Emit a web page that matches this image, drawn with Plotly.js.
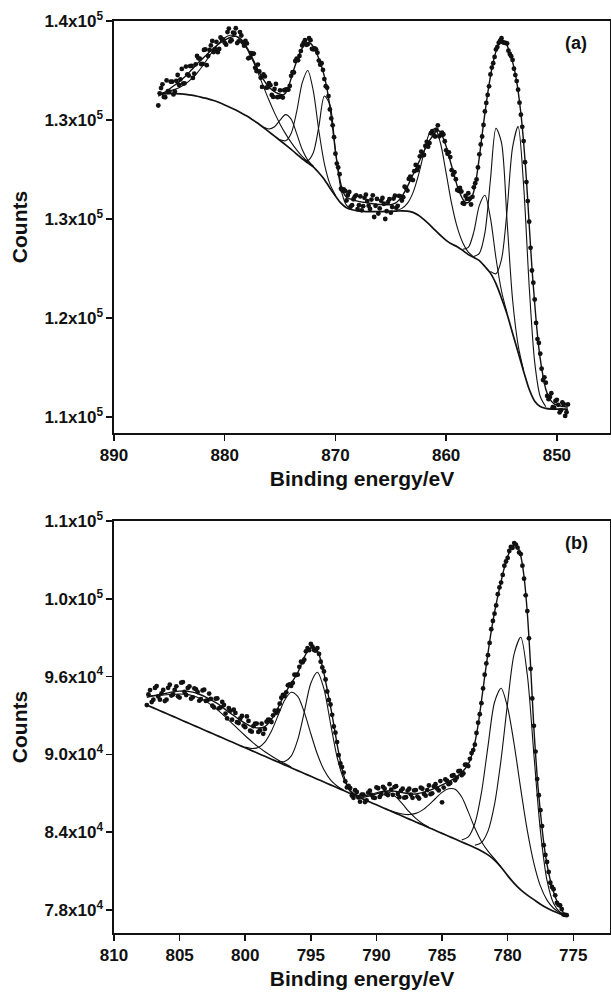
<!DOCTYPE html>
<html>
<head>
<meta charset="utf-8">
<script src="https://cdn.plot.ly/plotly-3.0.1.min.js"></script>
<style>
html,body{margin:0;padding:0;background:#fff;}
#chart{width:611px;height:998px;}
</style>
</head>
<body>
<div id="chart"></div>
<script>
// ---------- Panel (a) : Ni 2p ----------
const dataA_E = [886,885.75,885.5,885.25,885,884.75,884.5,884.25,884,883.75,883.5,883.25,883,882.75,882.5,882.25,882,881.75,881.5,881.25,881,880.75,880.5,880.25,880,879.75,879.5,879.25,879,878.75,878.5,878.25,878,877.75,877.5,877.25,877,876.75,876.5,876.25,876,875.75,875.5,875.25,875,874.75,874.5,874.25,874,873.75,873.5,873.25,873,872.75,872.5,872.25,872,871.75,871.5,871.25,871,870.75,870.5,870.25,870,869.75,869.5,869.25,869,868.75,868.5,868.25,868,867.75,867.5,867.25,867,866.75,866.5,866.25,866,865.75,865.5,865.25,865,864.75,864.5,864.25,864,863.75,863.5,863.25,863,862.75,862.5,862.25,862,861.75,861.5,861.25,861,860.75,860.5,860.25,860,859.75,859.5,859.25,859,858.75,858.5,858.25,858,857.75,857.5,857.25,857,856.75,856.5,856.25,856,855.75,855.5,855.25,855,854.75,854.5,854.25,854,853.75,853.5,853.25,853,852.75,852.5,852.25,852,851.75,851.5,851.25,851,850.75,850.5,850.25,850,849.75,849.5,849.25,849];
const dataA_counts = [133600,134920,134250,135500,134650,135400,134650,135910,135580,135260,136550,135870,136600,136020,137350,137150,136750,137850,137350,138150,137650,138420,137880,138620,138350,139160,138450,139120,139450,138460,138900,138130,138300,137220,137500,136450,136700,135700,135950,134950,135300,134400,134850,134230,134750,
134200,134800,134800,135850,136100,137150,137350,138150,138550,138230,138550,137850,137850,137000,136800,135600,134950,133300,132100,129950,128900,127300,127250,126400,
127050,126050,126700,125750,126710,125970,126840,126000,126470,125150,126520,125800,126590,125000,126280,125480,126550,125850,126750,
126400,127450,127150,128200,127950,129100,128950,130100,129850,130850,130750,131650,131250,132100,131350,131400,130200,130050,128700,128550,127200,127350,126200,126750,126950,
126100,127400,128000,129900,131250,133150,134400,135950,136800,137850,138350,138700,138350,138300,137500,137050,135900,134800,132900,130900,127800,124800,121100,118900,115900,114800,112800,112600,111350,111800,110700,111300,110350,111100,110080,110950];
// second (interleaved) set of measured points
const dataA2_E = [885.875,885.625,885.375,885.125,884.875,884.625,884.375,884.125,883.875,883.625,883.375,883.125,882.875,882.625,882.375,882.125,881.875,881.625,881.375,881.125,880.875,880.625,880.375,880.125,879.875,879.625,879.375,879.125,878.875,878.625,878.375,878.125,877.875,877.625,877.375,877.125,876.875,876.625,876.375,876.125,875.875,875.625,875.375,875.125,
874.875,874.625,874.375,874.125,873.875,873.625,873.375,873.125,872.875,872.625,872.375,872.125,871.875,871.625,871.375,871.125,870.875,870.625,870.375,870.125,869.875,869.625,869.375,869.125,
868.875,868.625,868.375,868.125,867.875,867.625,867.375,867.125,866.875,866.625,866.375,866.125,865.875,865.625,865.375,865.125,864.875,864.625,864.375,864.125,
863.875,863.625,863.375,863.125,862.875,862.625,862.375,862.125,861.875,861.625,861.375,861.125,860.875,860.625,860.375,860.125,859.875,859.625,859.375,859.125,858.875,858.625,858.375,858.125,
857.875,857.625,857.375,857.125,856.875,856.625,856.375,856.125,855.875,855.625,855.375,855.125,854.875,854.625,854.375,854.125,853.875,853.625,853.375,853.125,852.875,852.625,852.375,852.125,851.875,851.625,851.375,851.125,850.875,850.625,850.375,850.125,849.875,849.625,849.375,849.125];
const dataA2_counts = [134520,135205,134225,134695,135405,134435,135470,135155,136370,135275,135960,136585,135690,136715,137170,136730,137810,136650,137810,138490,137875,137640,138750,138565,138205,139425,138545,139075,138325,139160,138385,138485,137170,137570,137535,136205,136180,135005,135800,134965,135140,134245,135230,134250,
134265,134755,134815,135085,136120,136970,137025,137725,138340,138195,138700,137895,137930,137600,136690,136295,135060,134310,132620,131200,129200,128390,127155,127120,
126810,125940,126495,126795,126050,125660,126605,126360,125765,126790,125995,125410,126375,126155,125590,126500,125905,126760,126000,126715,
126650,127340,128035,127990,128620,128710,129745,129835,130530,130480,131505,131355,131760,131265,131550,130890,129945,129690,128355,128010,127135,127085,126150,126520,
126535,126680,127710,128910,130650,132120,133790,135050,136470,137280,138035,138515,138395,138340,137755,137330,136390,135450,133810,131980,129300,126360,122815,120175,117130,115615,113660,113005,111600,111510,110740,111220,110920,110510,110970,110360];
const envA_counts = [134300,134420,134550,134700,134850,135000,135150,135310,135480,135660,135850,136070,136300,136520,136750,136950,137150,137350,137550,137750,137950,138120,138280,138420,138550,138660,138750,138820,138850,138760,138600,138330,138000,137620,137200,136750,136300,135900,135550,135250,135000,134800,134650,134530,134450,
134400,134550,135000,135650,136350,136950,137500,137950,138250,138380,138300,138050,137650,137150,136550,135800,134800,133500,131900,130100,128700,127600,126950,126650,
126550,126450,126400,126350,126310,126270,126240,126200,126170,126150,126120,126100,126090,126080,126080,126080,126150,126250,126450,
126700,127050,127450,127900,128350,128800,129250,129700,130150,130550,130950,131250,131550,131700,131550,131100,130500,129750,129000,128250,127500,126950,126500,126250,126250,
126500,127100,128200,129700,131400,133000,134500,135800,136900,137700,138250,138500,138450,138150,137600,136900,136000,134700,133000,130800,128000,124600,121300,118600,116200,114400,113100,112100,111550,111200,111000,110900,110850,110800,110780,110750];

const gridA_E = [886,885.5,885,884.5,884,883.5,883,882.5,882,881.5,881,880.5,880,879.5,879,878.5,878,877.5,877,876.5,876,875.5,875,874.5,874,873.5,873,872.5,872,871.5,871,870.5,870,869.5,869,868.5,868,867.5,867,866.5,866,865.5,865,864.5,864,863.5,863,862.5,862,861.5,861,860.5,860,859.5,859,858.5,858,857.5,857,856.5,856,855.5,855,854.5,854,853.5,853,852.5,852,851.5,851,850.5,850,849.5,849];
const bgA_counts = [134450,134480,134500,134500,134480,134440,134380,134300,134200,134100,133980,133820,133640,133450,133250,133030,132800,132530,132250,131930,131600,131280,130950,130620,130280,129920,129550,129250,128950,128500,128000,127350,126750,126200,125850,125700,125620,125580,125560,125560,125560,125570,125580,125600,125620,125600,125500,125280,124950,124570,124150,123750,123380,123100,122900,122620,122300,122080,121850,121400,120900,120100,119000,117800,116350,114900,113450,112100,111200,110800,110650,110600,110600,110600,110600];

// fitted components (height above background)
const compA_879_E = [886,885.5,885,884.5,884,883.5,883,882.5,882,881.5,881,880.5,880,879.5,879,878.5,878,877.5,877,876.5,876,875.5,875,874.5,874,873.5,873,872.5,872];
const compA_879_h = [55,104,187,320,527,826,1233,1759,2391,3102,3837,4527,5095,5470,5600,5470,5095,4527,3837,3102,2391,1759,1233,826,527,320,187,104,55];
const compA_874_E = [876.5,876,875.5,875,874.5,874,873.5,873,872.5,872];
const compA_874_h = [46,220,709,1546,2285,2285,1546,709,220,46];
const compA_8725_E = [875,874.5,874,873.5,873,872.5,872,871.5,871,870.5,870];
const compA_8725_h = [53,308,1204,3206,5760,7000,5760,3206,1204,308,53];
const compA_8707_E = [873,872.5,872,871.5,871,870.5,870,869.5,869,868.5];
const compA_8707_h = [17,182,1070,3494,6317,6317,3494,1070,182,17];
const compA_861_E = [864.5,864,863.5,863,862.5,862,861.5,861,860.5,860,859.5,859,858.5,858,857.5];
const compA_861_h = [48,187,585,1480,3040,5100,6950,7700,6950,5100,3040,1480,585,187,48];
const compA_8565_E = [858.5,858,857.5,857,856.5,856,855.5,855,854.5];
const compA_8565_h = [92,545,1944,4185,5400,4185,1944,545,92];
const compA_8553_E = [857.5,857,856.5,856,855.5,855,854.5,854,853.5,853];
const compA_8553_h = [72,550,2550,7070,11780,11780,7070,2550,550,72];
const compA_8535_E = [856,855.5,855,854.5,854,853.5,853,852.5,852,851.5,851];
const compA_8535_h = [130,750,2940,7830,14070,17100,14070,7830,2940,750,130];

const tickA_vals = [140000,132500,125000,117500,110000];
const tickA_text = ['1.4x10<sup>5</sup>','1.3x10<sup>5</sup>','1.3x10<sup>5</sup>','1.2x10<sup>5</sup>','1.1x10<sup>5</sup>'];
const tickA_x = [890,880,870,860,850];

// ---------- Panel (b) : Co 2p ----------
const dataB_E = [807.5,807.25,807,806.75,806.5,806.25,806,805.75,805.5,805.25,805,804.75,804.5,804.25,804,803.75,803.5,803.25,803,802.75,802.5,802.25,802,801.75,801.5,801.25,801,800.75,800.5,800.25,800,799.75,799.5,799.25,799,798.75,798.5,798.25,798,797.75,797.5,797.25,797,796.75,796.5,796.25,796,795.75,795.5,795.25,795,794.75,794.5,794.25,794,793.75,793.5,793.25,793,792.75,792.5,792.25,792,791.75,791.5,791.25,791,790.75,790.5,790.25,790,789.75,789.5,789.25,789,788.75,788.5,788.25,788,787.75,787.5,787.25,787,786.75,786.5,786.25,786,785.75,785.5,785.25,785,784.75,784.5,784.25,784,783.75,783.5,783.25,783,782.75,782.5,782.25,782,781.75,781.5,781.25,781,780.75,780.5,780.25,780,779.75,779.5,779.25,779,778.75,778.5,778.25,778,777.75,777.5,777.25,777,776.75,776.5,776.25,776,775.75,775.5];
const dataB_counts = [93800,94960,94220,95270,94220,94970,94220,95370,94620,95250,
94380,95580,94580,95240,94400,95020,94140,94930,94120,94690,
93750,94300,93550,94050,93150,93570,92680,93200,92420,92960,
92100,92580,91750,92380,91730,92370,91950,92680,92500,93370,
93400,94370,94500,95330,95280,96150,96150,97150,97300,98200,
98520,98050,98200,97150,96400,94850,93850,92150,90950,89300,
88600,87450,87400,86650,87100,86350,86900,86450,87200,86670,
87450,86720,87500,86950,87700,86880,87550,86700,87350,86700,
87350,86650,87250,86600,87350,86820,87600,87000,87700,87220,
86300,88070,87700,88350,88000,88700,88400,89200,89100,90100,
90750,92450,93950,96150,97650,99650,100850,102350,103250,104550,
105150,106000,106300,105950,105450,103550,101050,96600,92200,88100,
85700,83000,81700,80100,79600,78550,78350,77650,77600];
const dataB2_E = [807.375,807.125,806.875,806.625,806.375,806.125,805.875,805.625,805.375,805.125,804.875,804.625,804.375,804.125,803.875,803.625,803.375,803.125,802.875,802.625,802.375,802.125,801.875,801.625,801.375,801.125,800.875,800.625,800.375,800.125,799.875,799.625,799.375,799.125,798.875,798.625,798.375,798.125,
797.875,797.625,797.375,797.125,796.875,796.625,796.375,796.125,795.875,795.625,795.375,795.125,794.875,794.625,794.375,794.125,793.875,793.625,793.375,793.125,792.875,792.625,792.375,792.125,
791.875,791.625,791.375,791.125,790.875,790.625,790.375,790.125,789.875,789.625,789.375,789.125,788.875,788.625,788.375,788.125,787.875,787.625,787.375,787.125,786.875,786.625,786.375,786.125,785.875,785.625,785.375,785.125,784.875,784.625,784.375,784.125,783.875,783.625,783.375,783.125,
782.875,782.625,782.375,782.125,781.875,781.625,781.375,781.125,780.875,780.625,780.375,780.125,779.875,779.625,779.375,779.125,778.875,778.625,778.375,778.125,777.875,777.625,777.375,777.125,776.875,776.625,776.375,776.125,775.875,775.625];
const dataB2_counts = [94625,94035,95130,94465,94710,94110,95135,94535,94965,94475,95530,94815,95120,94300,95085,94810,94260,94995,94160,94285,93620,94315,93620,93810,92775,93370,93445,92485,92770,92220,92925,91825,92180,92380,91855,91590,92525,92670,
93010,93210,93910,94585,94790,95405,95515,96125,96750,97100,97950,98035,98310,98000,97750,96700,95775,94200,93050,91675,89950,89025,87925,87575,
86825,87235,86685,86905,86320,87045,86880,86640,87390,86925,87350,86860,87280,87480,86945,87210,86665,87200,86905,87220,86750,87430,86950,87250,86935,87530,87370,87945,87440,87970,87795,88395,88210,88725,88525,89210,
89660,90332,91651,93098,95084,97019,98599,100293,101490,102877,103841,104876,105686,105932,106185,105573,104551,102266,98952,94315,90218,86849,84469,82248,80934,79782,79135,78399,78068,77616];
const envB_E = [807.5,807,806.5,806,805.5,805,804.5,804,803.5,803,802.5,802,801.5,801,800.5,800,799.5,799,798.5,798,797.5,797,796.5,796,795.75,795.5,795.25,795,794.75,794.5,794.25,794,793.75,793.5,793.25,793,792.75,792.5,792.25,792,791.5,791,790.5,790,789.5,789,788.5,788,787.5,787,786.5,786,785.5,785,784.5,784,783.5,783,782.75,782.5,782.25,782,781.75,781.5,781.25,781,780.75,780.5,780.25,780,779.75,779.5,779.25,779,778.75,778.5,778.25,778,777.75,777.5,777.25,777,776.75,776.5,776.25,776,775.75,775.5];
const envB_counts = [94400,94520,94620,94720,94820,94880,94880,94800,94640,94420,94150,93850,93450,93080,92720,92400,92150,92030,92150,92700,93600,94650,95480,96300,96900,97500,97950,98220,98250,98000,97300,96250,95000,93700,92300,90800,89500,88400,87650,87150,86800,86700,86800,86950,87100,87200,87150,87050,86950,86950,87050,87200,87400,87650,87900,88200,88600,89250,89900,90900,92300,94100,96000,97800,99500,100950,102200,103350,104400,105250,105850,106150,106050,105300,103700,100900,96800,92000,88300,85500,83200,81500,80300,79400,78700,78200,77800,77500];

const gridB_E = [807.5,807,806.5,806,805.5,805,804.5,804,803.5,803,802.5,802,801.5,801,800.5,800,799.5,799,798.5,798,797.5,797,796.5,796,795.5,795,794.5,794,793.5,793,792.5,792,791.5,791,790.5,790,789.5,789,788.5,788,787.5,787,786.5,786,785.5,785,784.5,784,783.5,783,782.5,782,781.5,781,780.5,780,779.5,779,778.5,778,777.5,777,776.5,776,775.5];
const bgB_counts = [93810,93590,93370,93150,92930,92710,92490,92270,92050,91830,91610,91390,91170,90950,90730,90510,90290,90070,89850,89630,89410,89190,88970,88750,88530,88310,88090,87870,87650,87430,87210,86990,86770,86550,86330,86110,85890,85670,85450,85230,85010,84790,84570,84350,84130,83910,83690,83470,83250,83030,82800,82550,82250,81850,81300,80650,80050,79550,79150,78800,78450,78150,77900,77700,77550];

const compB_803_E = [807.5,807,806.5,806,805.5,805,804.5,804,803.5,803,802.5,802,801.5,801,800.5,800,799.5,799,798.5,798,797.5,797,796.5];
const compB_803_h = [700,930,1180,1450,1710,1950,2140,2260,2300,2260,2140,1950,1710,1450,1180,930,700,510,360,250,160,100,60];
const compB_796_E = [800,799.5,799,798.5,798,797.5,797,796.5,796,795.5,795,794.5,794,793.5,793,792.5];
const compB_796_h = [50,170,470,1100,2170,3580,4980,5820,5720,4730,3280,1920,940,390,135,40];
const compB_7945_E = [797.5,797,796.5,796,795.5,795,794.5,794,793.5,793,792.5,792,791.5];
const compB_7945_h = [55,260,900,2370,4740,7180,8240,7180,4740,2370,900,260,55];
const compB_789_E = [792,791.5,791,790.5,790,789.5,789,788.5,788,787.5,787,786.5,786];
const compB_789_h = [35,105,270,550,930,1260,1400,1260,930,550,270,105,35];
const compB_784_E = [789,788.5,788,787.5,787,786.5,786,785.5,785,784.5,784,783.5,783,782.5,782,781.5,781,780.5];
const compB_784_h = [30,75,170,350,660,1130,1760,2470,3160,3660,3840,3460,2540,1520,740,290,95,25];
const compB_7805_E = [783.5,783,782.5,782,781.5,781,780.5,780,779.5,779,778.5,778,777.5,777,776.5,776,775.5];
const compB_7805_h = [150,610,1870,4480,8370,12170,13800,12950,10700,7770,4970,2800,1390,610,235,80,25];
const compB_779_E = [782.5,782,781.5,781,780.5,780,779.5,779,778.5,778,777.5,777,776.5,776,775.5];
const compB_779_h = [190,650,1830,4290,8320,13340,17730,19480,16970,11200,5610,2130,610,130,20];

const tickB_vals = [108000,102000,96000,90000,84000,78000];
const tickB_text = ['1.1x10<sup>5</sup>','1.0x10<sup>5</sup>','9.6x10<sup>4</sup>','9.0x10<sup>4</sup>','8.4x10<sup>4</sup>','7.8x10<sup>4</sup>'];
const tickB_x = [810,805,800,795,790,785,780,775];

const xTitle = 'Binding energy/eV';
const yTitle = 'Counts';
const panelLabels = ['(a)','(b)'];

// ---------- build traces ----------
const INK = '#111111';
function onBackground(E, h, gridE, bg) {
  return E.map((e, i) => bg[gridE.indexOf(e)] + h[i]);
}
function lineTrace(x, y, xa, ya, w) {
  return {x: x, y: y, xaxis: xa, yaxis: ya, type: 'scatter', mode: 'lines',
          line: {color: INK, width: w, shape: 'spline', smoothing: 0.8},
          hoverinfo: 'skip', showlegend: false};
}
function dotTrace(x, y, xa, ya) {
  return {x: x, y: y, xaxis: xa, yaxis: ya, type: 'scatter', mode: 'markers',
          marker: {color: INK, size: 4.8}, hoverinfo: 'skip', showlegend: false};
}

const compsA = [[compA_879_E, compA_879_h],[compA_874_E, compA_874_h],[compA_8725_E, compA_8725_h],
  [compA_8707_E, compA_8707_h],[compA_861_E, compA_861_h],[compA_8565_E, compA_8565_h],
  [compA_8553_E, compA_8553_h],[compA_8535_E, compA_8535_h]];
const compsB = [[compB_803_E, compB_803_h],[compB_796_E, compB_796_h],[compB_7945_E, compB_7945_h],
  [compB_789_E, compB_789_h],[compB_784_E, compB_784_h],[compB_7805_E, compB_7805_h],[compB_779_E, compB_779_h]];

const traces = [];
traces.push(lineTrace(gridA_E, bgA_counts, 'x', 'y', 1.7));
compsA.forEach(c => traces.push(lineTrace(c[0], onBackground(c[0], c[1], gridA_E, bgA_counts), 'x', 'y', 1.1)));
traces.push(lineTrace(dataA_E, envA_counts, 'x', 'y', 1.4));
traces.push(dotTrace(dataA_E, dataA_counts, 'x', 'y'));
traces.push(dotTrace(dataA2_E, dataA2_counts, 'x', 'y'));

traces.push(lineTrace(gridB_E, bgB_counts, 'x2', 'y2', 1.7));
compsB.forEach(c => traces.push(lineTrace(c[0], onBackground(c[0], c[1], gridB_E, bgB_counts), 'x2', 'y2', 1.1)));
traces.push(lineTrace(envB_E, envB_counts, 'x2', 'y2', 1.4));
traces.push(dotTrace(dataB_E, dataB_counts, 'x2', 'y2'));
traces.push(dotTrace(dataB2_E, dataB2_counts, 'x2', 'y2'));

const FAM = '"Liberation Sans", Arial, Helvetica, sans-serif';
const tickFont = {family: FAM, size: 17, color: INK, weight: 'bold'};
const titleFont = {family: FAM, size: 21, color: INK, weight: 'bold'};

function xAxis(anchor, range, vals) {
  return {anchor: anchor, domain: [0, 1], range: range, tickvals: vals, ticks: 'outside',
    ticklen: 6, tickwidth: 1.5, tickcolor: INK, showline: true, linewidth: 1.6, linecolor: INK,
    mirror: true, showgrid: false, zeroline: false, tickfont: tickFont,
    title: {text: xTitle, font: titleFont, standoff: 7}};
}
function yAxis(anchor, domain, range, vals, text) {
  return {anchor: anchor, domain: domain, range: range, tickvals: vals, ticktext: text,
    ticks: 'outside', ticklen: 6, tickwidth: 1.5, tickcolor: INK, showline: true, linewidth: 1.6,
    linecolor: INK, mirror: true, showgrid: false, zeroline: false, tickfont: tickFont,
    title: {text: yTitle, font: titleFont, standoff: 11}};
}

const layout = {
  width: 611, height: 998,
  margin: {l: 114, r: 1, t: 21, b: 65, pad: 0},
  paper_bgcolor: '#ffffff', plot_bgcolor: '#ffffff',
  showlegend: false,
  xaxis: xAxis('y', [890, 845.2], tickA_x),
  yaxis: yAxis('x', [0.54825, 1], [108788, 140000], tickA_vals, tickA_text),
  xaxis2: xAxis('y2', [810, 772.2], tickB_x),
  yaxis2: yAxis('x2', [0, 0.45175], [76226, 108000], tickB_vals, tickB_text),
  annotations: [
    {text: panelLabels[0], xref: 'paper', yref: 'paper', x: 0.9315, y: 0.9759, showarrow: false,
     xanchor: 'center', yanchor: 'middle', font: {family: FAM, size: 18, color: INK, weight: 'bold'}},
    {text: panelLabels[1], xref: 'paper', yref: 'paper', x: 0.9315, y: 0.4276, showarrow: false,
     xanchor: 'center', yanchor: 'middle', font: {family: FAM, size: 18, color: INK, weight: 'bold'}}
  ]
};

Plotly.newPlot('chart', traces, layout, {displayModeBar: false, staticPlot: true});
</script>
</body>
</html>
